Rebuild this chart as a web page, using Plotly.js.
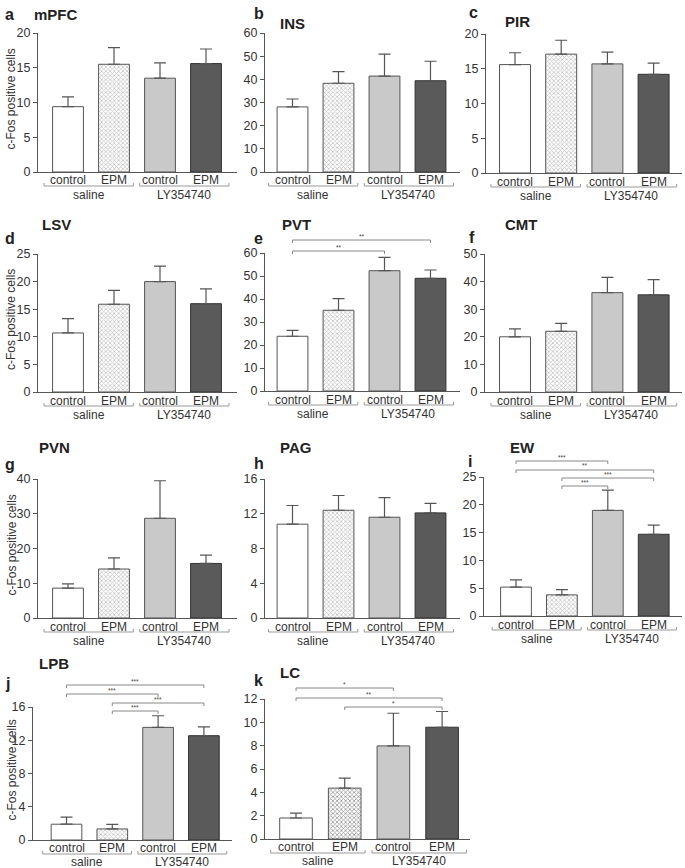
<!DOCTYPE html>
<html><head><meta charset="utf-8">
<script src="https://cdn.plot.ly/plotly-3.0.1.min.js"></script>
<style>html,body{margin:0;padding:0;background:#fff}#chart{width:685px;height:868px}</style>
</head><body><div id="chart"></div>
<script>
// ---------- DATA ----------
const categories = ['control', 'EPM', 'control', 'EPM'];
const groupLabels = ['saline', 'LY354740'];
const regionNames = ['mPFC', 'INS', 'PIR', 'LSV', 'PVT', 'CMT', 'PVN', 'PAG', 'EW', 'LPB', 'LC'];
const panelLetters = ['a', 'b', 'c', 'd', 'e', 'f', 'g', 'h', 'i', 'j', 'k'];
const yAxisTitle = 'c-Fos positive cells';

const mPFC_mean = [9.4, 15.5, 13.5, 15.6];  const mPFC_sem = [1.4, 2.4, 2.2, 2.1];
const INS_mean  = [28.1, 38.3, 41.4, 39.4]; const INS_sem  = [3.4, 5.0, 9.5, 8.4];
const PIR_mean  = [15.6, 17.1, 15.7, 14.2]; const PIR_sem  = [1.7, 2.0, 1.7, 1.6];
const LSV_mean  = [10.7, 15.9, 20.0, 16.0]; const LSV_sem  = [2.6, 2.5, 2.8, 2.7];
const PVT_mean  = [23.8, 35.1, 52.3, 49.0]; const PVT_sem  = [2.6, 5.1, 5.8, 3.6];
const CMT_mean  = [20.0, 22.0, 36.0, 35.2]; const CMT_sem  = [2.9, 2.9, 5.5, 5.5];
const PVN_mean  = [8.6, 14.1, 28.7, 15.7];  const PVN_sem  = [1.2, 3.2, 10.8, 2.4];
const PAG_mean  = [10.8, 12.4, 11.6, 12.1]; const PAG_sem  = [2.15, 1.7, 2.25, 1.1];
const EW_mean   = [5.2, 3.8, 19.0, 14.7];   const EW_sem   = [1.3, 0.95, 3.65, 1.65];
const LPB_mean  = [1.9, 1.33, 13.55, 12.55]; const LPB_sem = [0.85, 0.55, 1.4, 1.05];
const LC_mean   = [1.8, 4.36, 7.98, 9.58];  const LC_sem   = [0.42, 0.85, 2.8, 1.35];

const yMax  = [20, 60, 20, 25, 60, 50, 40, 16, 25, 16, 12];
const yStep = [5, 10, 5, 5, 10, 10, 10, 4, 5, 4, 2];

// significance comparisons: [from bar, to bar, label]
const PVT_sig = [[0, 3, '**'], [0, 2, '**']];
const EW_sig  = [[0, 2, '***'], [0, 3, '**'], [1, 3, '***'], [1, 2, '***']];
const LPB_sig = [[0, 3, '***'], [0, 2, '***'], [1, 3, '***'], [1, 2, '***']];
const LC_sig  = [[0, 2, '*'], [0, 3, '**'], [1, 3, '*']];

const means = [mPFC_mean, INS_mean, PIR_mean, LSV_mean, PVT_mean, CMT_mean, PVN_mean, PAG_mean, EW_mean, LPB_mean, LC_mean];
const sems  = [mPFC_sem, INS_sem, PIR_sem, LSV_sem, PVT_sem, CMT_sem, PVN_sem, PAG_sem, EW_sem, LPB_sem, LC_sem];
const sigs  = {4: PVT_sig, 8: EW_sig, 9: LPB_sig, 10: LC_sig};

// ---------- LAYOUT GEOMETRY (pixels) ----------
const W = 685, H = 868;
const px = x => x / W, py = y => 1 - y / H;
const geom = [
  {ax: 38,  c0: 68,    sp: 46,   end: 237, top: 33,  zero: 172, letter: [3, 15],   title: [32, 15]},
  {ax: 265, c0: 292.5, sp: 46,   end: 460, top: 33,  zero: 172, letter: [252, 13], title: [278, 23]},
  {ax: 486, c0: 515,   sp: 46.2, end: 682, top: 34,  zero: 173, letter: [467, 12], title: [503, 22]},
  {ax: 38,  c0: 68,    sp: 46,   end: 237, top: 254, zero: 392, letter: [3, 239],  title: [40, 225]},
  {ax: 265, c0: 292.5, sp: 46,   end: 460, top: 253, zero: 391, letter: [252, 239], title: [280, 225]},
  {ax: 485, c0: 515,   sp: 46.2, end: 682, top: 254, zero: 392, letter: [467, 238], title: [503, 225]},
  {ax: 38,  c0: 68,    sp: 46,   end: 237, top: 479, zero: 618, letter: [3, 464],  title: [37, 447]},
  {ax: 265, c0: 292.5, sp: 46,   end: 460, top: 479, zero: 618, letter: [252, 463], title: [278, 447]},
  {ax: 484, c0: 516,   sp: 45.9, end: 682, top: 477, zero: 616, letter: [466, 461], title: [508, 447]},
  {ax: 33,  c0: 66.5,  sp: 45.8, end: 232, top: 707, zero: 840, letter: [3, 683],  title: [37, 663]},
  {ax: 265, c0: 296,   sp: 48.7, end: 470, top: 699, zero: 839, letter: [252, 680], title: [278, 672]},
];
const sigYpx = {4: [240, 251], 8: [461, 470, 478, 486], 9: [685, 694, 703, 711], 10: [688, 698, 707]};
const firstColumn = [0, 3, 6, 9];

const FONT = 'Liberation Sans, Arial, Helvetica, sans-serif';
const barColors = ['#ffffff', '#b8b8b8', '#c9c9c9', '#5a5a5a'];
const barLines  = ['#555555', '#555555', '#555555', '#333333'];

const traces = [], shapes = [], annotations = [];
const layout = {
  width: W, height: H, margin: {l: 0, r: 0, t: 0, b: 0},
  paper_bgcolor: '#ffffff', plot_bgcolor: '#ffffff',
  showlegend: false, font: {family: FONT, color: '#333'},
  bargap: 0,
};

geom.forEach((g, i) => {
  const n = i === 0 ? '' : String(i + 1);
  const xa = 'x' + n, ya = 'y' + n;
  const patBg = i === 10 ? '#969696' : '#c2c2c2';
  const patFg = i === 10 ? '#444444' : '#787878';
  traces.push({
    type: 'bar', x: [0, 1, 2, 3], y: means[i], xaxis: xa, yaxis: ya,
    width: 0.67, hoverinfo: 'skip',
    marker: {
      color: [barColors[0], patBg, barColors[2], barColors[3]],
      line: {color: barLines, width: 1},
      pattern: {shape: ['', 'x', '', ''], fgcolor: patFg, bgcolor: patBg, size: 3, solidity: 0.45, fillmode: 'replace'}
    },
    error_y: {type: 'data', symmetric: false, array: sems[i], arrayminus: [0, 0, 0, 0],
              color: '#555', thickness: 1.2, width: 6}
  });
  layout['xaxis' + n] = {
    domain: [px(g.ax), px(g.end)],
    range: [(g.ax - g.c0) / g.sp, (g.end - g.c0) / g.sp],
    anchor: ya, showline: true, linecolor: '#555', linewidth: 1,
    showgrid: false, zeroline: false, ticks: '', showticklabels: false,
    fixedrange: true
  };
  layout['yaxis' + n] = {
    domain: [py(g.zero), py(g.top)], range: [0, yMax[i]], dtick: yStep[i], tick0: 0,
    anchor: xa, showline: true, linecolor: '#555', linewidth: 1,
    showgrid: false, zeroline: false, ticks: 'outside', ticklen: 4, tickcolor: '#555',
    tickfont: {size: 12.5, color: '#333', family: FONT}, fixedrange: true
  };
  // category labels
  const catY = i >= 9 ? g.zero + 7.5 : g.zero + 8.5;
  categories.forEach((c, k) => {
    annotations.push({xref: xa, yref: 'paper', x: k, y: py(catY), text: c, showarrow: false,
      xanchor: 'center', yanchor: 'middle', font: {size: 12, color: '#333', family: FONT}});
  });
  // group brackets under the category labels
  const brY = g.zero + 14;
  const by = py(brY), byUp = py(brY - 3);
  const grY = i >= 9 ? g.zero + 21.5 : g.zero + 23;
  [[-0.52, 1.42], [1.56, 3.5]].forEach((seg, k) => {
    shapes.push({type: 'path', xref: xa, yref: 'paper',
      path: `M${seg[0]},${byUp} L${seg[0]},${by} L${seg[1]},${by} L${seg[1]},${byUp}`,
      line: {color: '#999', width: 1}});
    annotations.push({xref: xa, yref: 'paper', x: k === 0 ? 0.45 : 2.52, y: py(grY),
      text: groupLabels[k], showarrow: false, xanchor: 'center', yanchor: 'middle',
      font: {size: 12, color: '#333', family: FONT}});
  });
  // panel letter and region title
  annotations.push({xref: 'paper', yref: 'paper', x: px(g.letter[0]), y: py(g.letter[1]),
    text: '<b>' + panelLetters[i] + '</b>', showarrow: false, xanchor: 'left', yanchor: 'middle',
    font: {size: 16, color: '#222', family: FONT}});
  annotations.push({xref: 'paper', yref: 'paper', x: px(g.title[0]), y: py(g.title[1]),
    text: '<b>' + regionNames[i] + '</b>', showarrow: false, xanchor: 'left', yanchor: 'middle',
    font: {size: 15, color: '#222', family: FONT}});
  if (firstColumn.includes(i)) {
    annotations.push({xref: 'paper', yref: 'paper', x: px(11), y: py((g.top + g.zero) / 2 - 3),
      text: yAxisTitle, textangle: -90, showarrow: false, xanchor: 'center', yanchor: 'middle',
      font: {size: 12, color: '#333', family: FONT}});
  }
  // significance brackets
  if (sigs[i]) {
    sigs[i].forEach((s, k) => {
      const yl = sigYpx[i][k];
      shapes.push({type: 'path', xref: xa, yref: 'paper',
        path: `M${s[0]},${py(yl + 3)} L${s[0]},${py(yl)} L${s[1]},${py(yl)} L${s[1]},${py(yl + 3)}`,
        line: {color: '#888', width: 1}});
      annotations.push({xref: xa, yref: 'paper', x: (s[0] + s[1]) / 2, y: py(yl - 4),
        text: s[2], showarrow: false, xanchor: 'center', yanchor: 'middle',
        font: {size: 6.5, color: '#444', family: FONT}});
    });
  }
});
layout.shapes = shapes;
layout.annotations = annotations;

Plotly.newPlot('chart', traces, layout, {staticPlot: true, displayModeBar: false});
</script>
</body></html>
